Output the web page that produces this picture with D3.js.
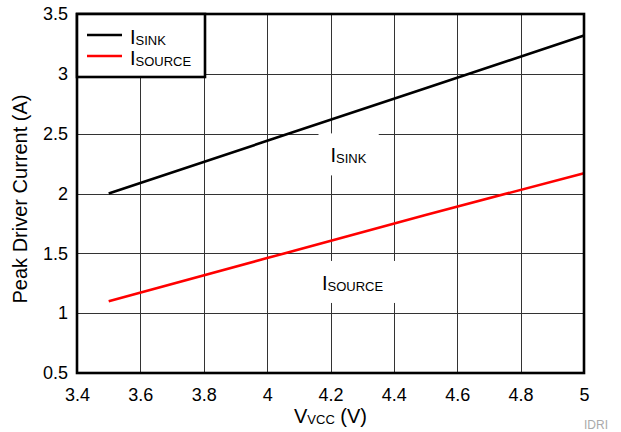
<!DOCTYPE html>
<html>
<head>
<meta charset="utf-8">
<script src="https://cdn.jsdelivr.net/npm/d3@7"></script>
<style>
  body { margin: 0; background: #fff; }
  text { font-family: "Liberation Sans", Arial, sans-serif; fill: #000; }
</style>
</head>
<body>
<div id="chart"></div>
<script>
// values
const vcc = [3.5, 4.0, 4.5, 5.0];
const iSink = [2.0, 2.44, 2.88, 3.32];
const iSource = [1.1, 1.46, 1.82, 2.17];

const xTicks = [3.4, 3.6, 3.8, 4.0, 4.2, 4.4, 4.6, 4.8, 5.0];
const xTickLabels = ["3.4", "3.6", "3.8", "4", "4.2", "4.4", "4.6", "4.8", "5"];
const yTicks = [0.5, 1.0, 1.5, 2.0, 2.5, 3.0, 3.5];
const yTickLabels = ["0.5", "1", "1.5", "2", "2.5", "3", "3.5"];

const seriesNames = ["SINK", "SOURCE"];
const seriesColors = ["#000000", "#ff0000"];

document.addEventListener("DOMContentLoaded", function () {
  const margin = { top: 14, right: 37, bottom: 59, left: 77 };
  const width = 621 - margin.left - margin.right;
  const height = 432 - margin.top - margin.bottom;

  const root = d3
    .select("#chart")
    .append("svg")
    .attr("width", 621)
    .attr("height", 432);

  const svg = root
    .append("g")
    .attr("transform", `translate(${margin.left},${margin.top})`);

  const x = d3.scaleLinear().domain([3.4, 5.0]).range([0, width]);
  const y = d3.scaleLinear().domain([0.5, 3.5]).range([height, 0]);

  // grid
  svg
    .selectAll(".vgrid")
    .data(xTicks.slice(1, -1))
    .enter()
    .append("line")
    .attr("x1", (d) => Math.round(x(d)) + 0.5)
    .attr("x2", (d) => Math.round(x(d)) + 0.5)
    .attr("y1", 0)
    .attr("y2", height)
    .style("stroke", "#333")
    .style("stroke-width", 1);

  svg
    .selectAll(".hgrid")
    .data(yTicks.slice(1, -1))
    .enter()
    .append("line")
    .attr("x1", 0)
    .attr("x2", width)
    .attr("y1", (d) => Math.round(y(d)) + 0.5)
    .attr("y2", (d) => Math.round(y(d)) + 0.5)
    .style("stroke", "#333")
    .style("stroke-width", 1);

  // axes (labels only)
  const xAxis = svg
    .append("g")
    .attr("transform", `translate(0,${height})`)
    .call(
      d3.axisBottom(x)
        .tickValues(xTicks)
        .tickSize(0)
        .tickPadding(15)
        .tickFormat((d, i) => xTickLabels[i])
    );
  xAxis.select(".domain").remove();
  xAxis.selectAll("text").style("font-size", "18px").style("font-family", null).style("fill", "#000");

  const yAxis = svg
    .append("g")
    .call(
      d3.axisLeft(y)
        .tickValues(yTicks)
        .tickSize(0)
        .tickPadding(9)
        .tickFormat((d, i) => yTickLabels[i])
    );
  yAxis.select(".domain").remove();
  yAxis.selectAll("text").style("font-size", "18px").style("fill", "#000");
  root.selectAll(".tick text").attr("font-family", null);

  // in-plot labels with white boxes
  const notes = [
    { name: "SINK", vx: 4.2, vy: 2.26 },
    { name: "SOURCE", vx: 4.173, vy: 1.194 },
  ];
  notes.forEach((n) => {
    const box = svg.append("rect").style("fill", "#fff");
    const t = svg
      .append("text")
      .attr("x", x(n.vx))
      .attr("y", y(n.vy))
      .style("font-size", "20px");
    t.append("tspan").text("I");
    t.append("tspan").attr("dy", 1).style("font-size", "13px").text(n.name);
    const b = t.node().getBBox();
    box
      .attr("x", b.x - 12)
      .attr("y", b.y - 11)
      .attr("width", b.width + 24)
      .attr("height", b.height + 20);
  });

  // data lines
  const line = d3
    .line()
    .x((d) => x(d[0]))
    .y((d) => y(d[1]));

  [iSink, iSource].forEach((vals, i) => {
    svg
      .append("path")
      .datum(vcc.map((v, j) => [v, vals[j]]))
      .attr("d", line)
      .style("fill", "none")
      .style("stroke", seriesColors[i])
      .style("stroke-width", 2.6);
  });

  // frame
  svg
    .append("rect")
    .attr("x", 0)
    .attr("y", 0)
    .attr("width", width)
    .attr("height", height)
    .style("fill", "none")
    .style("stroke", "#000")
    .style("stroke-width", 2.6);

  // legend
  const legend = svg.append("g");
  legend
    .append("rect")
    .attr("x", 0)
    .attr("y", 0)
    .attr("width", 128)
    .attr("height", 63)
    .style("fill", "#fff")
    .style("stroke", "#000")
    .style("stroke-width", 2.6);

  seriesNames.forEach((name, i) => {
    const ly = 21 + i * 21;
    legend
      .append("line")
      .attr("x1", 10)
      .attr("x2", 45)
      .attr("y1", ly)
      .attr("y2", ly)
      .style("stroke", seriesColors[i])
      .style("stroke-width", 2.6);
    const t = legend
      .append("text")
      .attr("x", 53)
      .attr("y", ly + 8.5)
      .style("font-size", "20px");
    t.append("tspan").text("I");
    t.append("tspan").attr("dy", 1).style("font-size", "13px").text(name);
  });

  // axis titles
  const xt = root
    .append("text")
    .attr("x", margin.left + width / 2)
    .attr("y", 422.7)
    .attr("text-anchor", "middle")
    .style("font-size", "20px");
  xt.append("tspan").text("V");
  xt.append("tspan").attr("dy", 1).style("font-size", "13px").text("VCC");
  xt.append("tspan").attr("dy", -1).text(" (V)");

  root
    .append("text")
    .attr("transform", "translate(26.7,199) rotate(-90)")
    .attr("text-anchor", "middle")
    .style("font-size", "20px")
    .text("Peak Driver Current (A)");

  root
    .append("text")
    .attr("x", 608)
    .attr("y", 429.3)
    .attr("text-anchor", "end")
    .style("font-size", "12px")
    .style("fill", "#aaa")
    .text("IDRI");
});
</script>
</body>
</html>
